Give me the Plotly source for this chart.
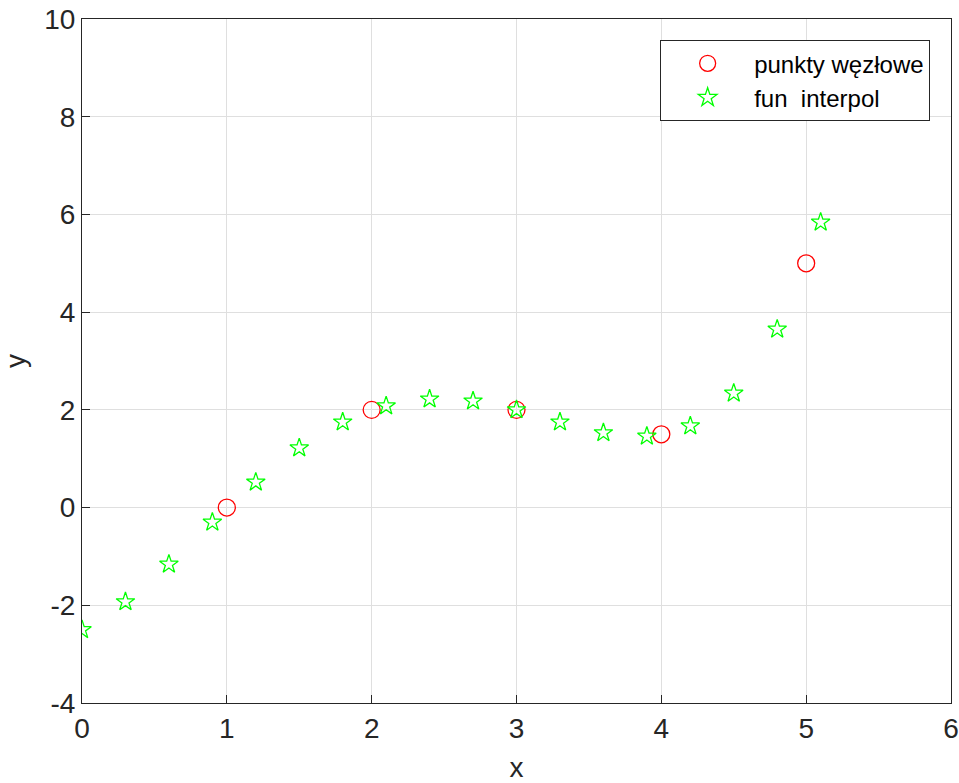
import plotly.graph_objects as go

node_x = [1, 2, 3, 4, 5]
node_y = [0, 2, 2, 1.5, 5]

interp_x = [0, 0.3, 0.6, 0.9, 1.2, 1.5, 1.8, 2.1, 2.4, 2.7, 3.0, 3.3, 3.6, 3.9, 4.2, 4.5, 4.8, 5.1]
interp_y = [-2.5, -1.93, -1.16, -0.30, 0.52, 1.22, 1.75, 2.08, 2.22, 2.18, 2.0, 1.75, 1.53, 1.46, 1.67, 2.34, 3.65, 5.84]

x_ticks = [0, 1, 2, 3, 4, 5, 6]
x_labels = ["0", "1", "2", "3", "4", "5", "6"]
y_ticks = [-4, -2, 0, 2, 4, 6, 8, 10]
y_labels = ["-4", "-2", "0", "2", "4", "6", "8", "10"]

fig = go.Figure()
fig.add_trace(go.Scatter(
    x=node_x, y=node_y, mode="markers", name="punkty węzłowe",
    marker=dict(symbol="circle-open", size=17, color="#ff0000", line=dict(width=1.3)),
))
fig.add_trace(go.Scatter(
    x=interp_x, y=interp_y, mode="markers", name="fun  interpol",
    marker=dict(symbol="star-open", size=14, color="#00ff00", line=dict(width=1.3)),
))

font_family = "Liberation Sans, Arial, sans-serif"
axis_common = dict(
    showgrid=True, gridcolor="#dfdfdf", gridwidth=1,
    showline=True, linecolor="#262626", linewidth=1, mirror=True,
    ticks="inside", ticklen=8, tickcolor="#262626",
    zeroline=False,
    tickfont=dict(family=font_family, size=28, color="#262626"),
)

fig.update_layout(
    width=959, height=783,
    margin=dict(l=82, r=8, t=19, b=80, autoexpand=False),
    plot_bgcolor="white", paper_bgcolor="white",
    font=dict(family=font_family, color="#262626"),
    xaxis=dict(range=[0, 6], tickvals=x_ticks, ticktext=x_labels, **axis_common,
               title=dict(text="x", font=dict(size=28, color="#262626"), standoff=22)),
    yaxis=dict(range=[-4, 10], tickvals=y_ticks, ticktext=y_labels, **axis_common,
               title=dict(text="y", font=dict(size=28, color="#262626"), standoff=14)),
    legend=dict(
        x=0.976, y=0.969, xanchor="right", yanchor="top",
        bgcolor="white", bordercolor="#262626", borderwidth=1,
        font=dict(family=font_family, size=24, color="#000000"),
        itemwidth=83, tracegroupgap=0,
    ),
    showlegend=True,
)

fig.write_html("out.html", config={"displayModeBar": False},
               post_script="document.body.style.margin='0';")
